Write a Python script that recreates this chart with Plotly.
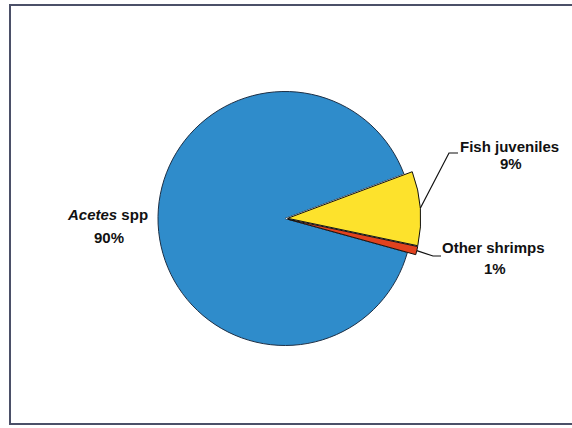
import math
import plotly.graph_objects as go

# Diet composition (percent of stomach contents)
categories = ["Acetes spp", "Fish juveniles", "Other shrimps"]
shares = [90, 9, 1]
slice_colors = ["#2f8ccb", "#fde22c", "#e2421e"]

W, H = 572, 428
CX, CY = 285.0, 218.5        # pie centre in pixels
R_MAIN = 127.0               # radius of the large slice
R_SMALL = 133.0              # radius of the two small exploded slices
PULL = 0.02
ROTATION = 105.5             # clockwise start angle of the first slice


def px(x, y):
    """pixel position -> paper coordinates"""
    return x / W, 1 - y / H


def domain(r, pull):
    half = r * (1 + pull)
    x0, y1 = px(CX - half, CY - half)
    x1, y0 = px(CX + half, CY + half)
    return dict(x=[x0, x1], y=[y0, y1])


fig = go.Figure()

# Base pie: the large slice with its outline; the small slices left white
fig.add_trace(go.Pie(
    labels=categories, values=shares, sort=False, direction="clockwise",
    rotation=ROTATION, textinfo="none", hoverinfo="label+percent",
    marker=dict(colors=[slice_colors[0], "white", "white"],
                line=dict(color="#1d2f45", width=[1, 0, 0])),
    domain=domain(R_MAIN, 0), showlegend=False,
))

# Exploded small slices drawn on top
fig.add_trace(go.Pie(
    labels=categories, values=shares, sort=False, direction="clockwise",
    rotation=ROTATION, textinfo="none", hoverinfo="label+percent",
    pull=[0, PULL, PULL],
    marker=dict(colors=["rgba(0,0,0,0)", slice_colors[1], slice_colors[2]],
                line=dict(color="#111111", width=[0, 1, 1])),
    domain=domain(R_SMALL, PULL), showlegend=False,
))

# mid-angle (clockwise from 12 o'clock) of each slice
total = sum(shares)
mids, a = [], ROTATION
for v in shares:
    span = 360 * v / total
    mids.append(a + span / 2)
    a += span


def edge_point(i, r):
    ang = math.radians(mids[i])
    shift = PULL * R_SMALL if i else 0
    return CX + (r + shift) * math.sin(ang), CY - (r + shift) * math.cos(ang)


shapes = []
# leader lines for the two small slices
fx, fy = edge_point(1, R_SMALL)
ox, oy = edge_point(2, R_SMALL)
leaders = [
    [(fx, fy), (449, 153), (458, 153)],
    [(ox, oy), (433, 256), (441, 256)],
]
for pts in leaders:
    path = "M " + " L ".join("{:.5f},{:.5f}".format(*px(x, y)) for x, y in pts)
    shapes.append(dict(type="path", xref="paper", yref="paper", path=path,
                       line=dict(color="#111111", width=1.2)))

# chart frame
fx0, fy0 = px(10, 424)
fx1, fy1 = px(600, 5)
shapes.append(dict(type="rect", xref="paper", yref="paper",
                   x0=fx0, y0=fy0, x1=fx1, y1=fy1,
                   line=dict(color="#4b5068", width=2)))

label_font = dict(family="Liberation Sans, Arial, sans-serif", size=15,
                  color="#111111")
label_text = [
    ("<b><i>Acetes</i> spp</b>", 107, 214),
    ("<b>{}%</b>".format(shares[0]), 109, 237),
    ("<b>Fish juveniles</b>", 509, 146),
    ("<b>{}%</b>".format(shares[1]), 511, 163),
    ("<b>Other shrimps</b>", 493, 248),
    ("<b>{}%</b>".format(shares[2]), 495, 268),
]
annotations = []
for text, x, y in label_text:
    ax, ay = px(x, y)
    annotations.append(dict(text=text, x=ax, y=ay, xref="paper", yref="paper",
                            xanchor="center", yanchor="middle",
                            showarrow=False, font=label_font))

fig.update_layout(
    width=W, height=H,
    margin=dict(l=0, r=0, t=0, b=0),
    paper_bgcolor="white", plot_bgcolor="white",
    shapes=shapes, annotations=annotations,
)

fig.write_html("out.html")
